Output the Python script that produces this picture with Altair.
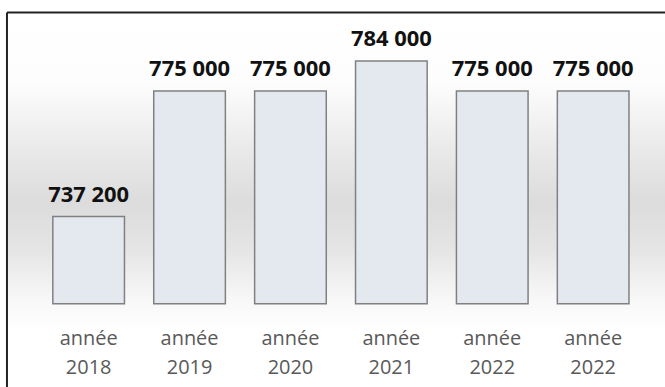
import altair as alt
import pandas as pd

years = ["2018", "2019", "2020", "2021", "2022", "2022"]
values = [737200, 775000, 775000, 784000, 775000, 775000]

df = pd.DataFrame({"slot": list(range(len(years))), "year": years, "value": values})

label_map = "{" + ",".join(f"'{i}':'{y}'" for i, y in enumerate(years)) + "}"
label_expr = f"['année', {label_map}[datum.label]]"

W, H = 660, 292
FONT = "Open Sans"

x_enc = alt.X(
    "slot:O",
    scale=alt.Scale(paddingInner=0.29, paddingOuter=0.4057, align=0.56),
    axis=alt.Axis(
        title=None, labelAngle=0, domain=False, ticks=False,
        labelExpr=label_expr, labelFont=FONT, labelFontSize=20,
        labelColor="#595959", labelLineHeight=29, labelPadding=25,
        labelBaseline="top",
    ),
)
y_enc = alt.Y(
    "value:Q",
    scale=alt.Scale(domain=[711000, 798600], zero=False, nice=False),
    axis=None,
)

bg = alt.Chart(alt.Data(values=[{}])).mark_rect(
    color=alt.Gradient(
        gradient="linear", x1=0, x2=0, y1=0, y2=1,
        stops=[
            alt.GradientStop(offset=0.0, color="#ffffff"),
            alt.GradientStop(offset=0.22, color="#fdfdfd"),
            alt.GradientStop(offset=0.45, color="#e8e8e8"),
            alt.GradientStop(offset=0.6, color="#dcdcdc"),
            alt.GradientStop(offset=0.74, color="#e4e4e4"),
            alt.GradientStop(offset=0.9, color="#f7f7f7"),
            alt.GradientStop(offset=1.0, color="#ffffff"),
        ],
    )
).encode(x=alt.value(0), x2=alt.value(W), y=alt.value(0), y2=alt.value(318))

frame_top = alt.Chart(alt.Data(values=[{}])).mark_rule(color="#222222", strokeWidth=2).encode(
    x=alt.value(0), x2=alt.value(W), y=alt.value(0)
)
frame_left = alt.Chart(alt.Data(values=[{}])).mark_rule(color="#222222", strokeWidth=2).encode(
    x=alt.value(0), y=alt.value(0), y2=alt.value(390)
)

base = alt.Chart(df)
bars = base.mark_bar(fill="#e4e9f0", stroke="#808080", strokeWidth=1.5).encode(
    x=x_enc, y=y_enc, y2=alt.datum(711000)
)
texts = base.transform_calculate(
    lbl="replace(format(datum.value, ','), ',', ' ')"
).mark_text(
    font=FONT, fontWeight="bold", fontSize=22, color="#111111",
    baseline="alphabetic", dy=-15
).encode(x=x_enc, y=y_enc, text="lbl:N")

chart = alt.layer(bg, bars, texts, frame_top, frame_left).properties(
    width=W, height=H,
    padding={"left": 7, "top": 12, "right": 0, "bottom": 83},
    autosize=alt.AutoSizeParams(type="none"),
).configure_view(stroke=None).configure(background="white")

chart.save("out.html", embed_options={"renderer": "svg", "actions": False})
